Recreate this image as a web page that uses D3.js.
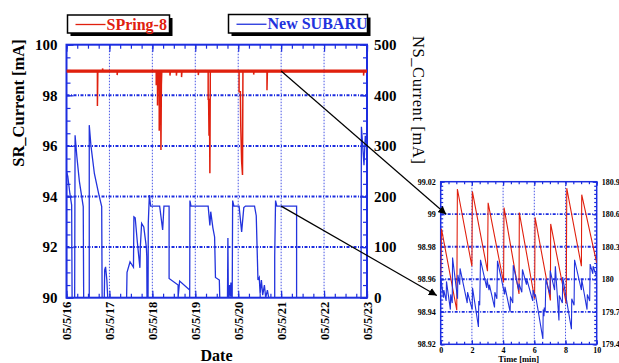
<!DOCTYPE html>
<html>
<head>
<meta charset="utf-8">
<script src="https://cdn.jsdelivr.net/npm/d3@7"></script>
<style>
  body { margin: 0; background: #fff; }
  svg { display: block; }
  text { font-family: "Liberation Serif", "Times New Roman", serif; }
</style>
</head>
<body>
<svg id="chart" width="619" height="363"></svg>
<script>
// ---- data ----
const dateLabels = ["05/5/16", "05/5/17", "05/5/18", "05/5/19", "05/5/20", "05/5/21", "05/5/22", "05/5/23"]
const srTicks = [90, 92, 94, 96, 98, 100]
const nsTicks = [0, 100, 200, 300, 400, 500]

// SPring-8 stored current [%], [day, value]
const spring8 = [
  [0, 98.96], [0.72, 98.96], [0.72, 97.58], [0.73, 98.96], [0.84, 98.96], [0.84, 99.06], [0.85, 98.96],
  [1.18, 98.96], [1.18, 98.8], [1.19, 98.96],
  [2.09, 98.96], [2.09, 98.4], [2.10, 98.96], [2.12, 98.96], [2.12, 97.6], [2.13, 98.96],
  [2.16, 98.96], [2.16, 96.6], [2.17, 98.4], [2.19, 98.96], [2.20, 95.84], [2.21, 98.4], [2.22, 98.96],
  [2.41, 98.96], [2.41, 98.78], [2.42, 98.96], [2.56, 98.96], [2.56, 98.78], [2.57, 98.96],
  [2.68, 98.96], [2.68, 98.72], [2.69, 98.96], [3.07, 98.96], [3.07, 98.8], [3.08, 98.96],
  [3.30, 98.96], [3.30, 97.84], [3.31, 97.84], [3.32, 96.4], [3.33, 97.84], [3.34, 94.92], [3.35, 98.96],
  [4.02, 98.96], [4.02, 98.14], [4.05, 98.14], [4.06, 96.76], [4.08, 95.38], [4.10, 94.85], [4.11, 98.96],
  [4.36, 98.96], [4.36, 98.82], [4.37, 98.96], [4.67, 98.96], [4.67, 98.2], [4.68, 98.96],
  [6.92, 98.96], [6.92, 98.78], [6.93, 98.96], [7, 98.96]
]
const spring8Band = [98.89, 99.02]

// New SUBARU current [mA], [day, value]
const subaru = [
  [0, 0], [0, 250], [0.03, 240], [0.08, 205], [0.12, 183], [0.13, 0],
  [0.19, 0], [0.20, 321], [0.24, 280], [0.30, 230], [0.39, 180], [0.40, 0],
  [0.53, 0], [0.53, 341], [0.57, 300], [0.65, 245], [0.75, 205], [0.82, 180], [0.83, 0],
  [0.88, 0], [0.89, 55], [0.91, 61], [0.94, 35], [0.96, 0],
  [1.40, 0], [1.41, 50], [1.48, 71], [1.56, 60], [1.57, 160], [1.60, 158], [1.65, 110], [1.71, 59],
  [1.72, 100], [1.75, 147], [1.80, 140], [1.86, 100], [1.87, 81], [1.875, 0], [1.90, 0],
  [1.905, 147], [1.93, 203], [1.96, 181], [2.17, 181], [2.21, 154], [2.24, 134], [2.27, 181],
  [2.39, 181], [2.39, 38], [2.60, 25], [2.60, 0], [2.635, 33], [2.87, 15], [2.87, 0],
  [2.875, 192], [2.90, 181], [3.30, 181], [3.34, 143], [3.36, 170], [3.41, 138], [3.45, 120],
  [3.47, 40], [3.56, 35], [3.57, 0],
  [3.75, 0], [3.76, 118], [3.77, 0], [3.80, 25], [3.81, 0], [3.83, 30], [3.84, 5], [3.86, 0],
  [3.87, 192], [3.90, 181], [4.02, 181], [4.08, 130], [4.13, 178], [4.17, 181], [4.38, 181],
  [4.42, 162], [4.46, 35], [4.49, 40], [4.51, 8], [4.54, 35], [4.57, 5], [4.61, 25], [4.64, 0],
  [4.68, 15], [4.71, 0],
  [4.85, 0], [4.85, 81], [4.87, 192], [4.90, 181], [5.36, 181], [5.36, 0],
  [6.86, 0], [6.87, 338], [6.90, 300], [6.93, 262], [6.96, 320], [7.0, 300]
]

// inset: 10 minutes of top-up operation, [min, value]
const insetTimeTicks = [0, 2, 4, 6, 8, 10]
const insetSRTicks = [98.92, 98.94, 98.96, 98.98, 99, 99.02]
const insetNSTicks = [179.4, 179.7, 180, 180.3, 180.6, 180.9]
const insetSpring8 = [
  [0, 98.962], [0.05, 98.991], [1.03, 98.941], [1.07, 99.0155], [2.0, 98.968], [2.03, 99.014],
  [3.0, 98.965], [3.04, 99.007], [4.03, 98.958], [4.06, 99.004], [5.02, 98.951], [5.04, 99.001],
  [6.02, 98.948], [6.05, 98.998], [7.03, 98.947], [7.05, 98.994], [8.05, 98.945], [8.08, 99.016],
  [9.02, 98.968], [9.04, 99.012], [10, 98.97]
]
const insetSubaru = [
  [0.00, 179.90], [0.02, 180.00], [0.18, 179.83], [0.20, 179.90], [0.35, 179.80],
  [0.37, 179.98], [0.62, 179.72], [0.64, 179.86], [0.74, 179.78],
  [0.76, 180.20], [1.08, 179.82], [1.10, 180.04], [1.22, 179.95],
  [1.24, 180.10], [1.70, 179.78], [1.72, 179.88], [2.02, 179.72],
  [2.04, 179.92], [2.42, 179.56], [2.44, 179.80], [2.50, 179.76],
  [2.55, 180.18], [2.95, 179.92], [2.97, 180.00], [3.10, 179.90],
  [3.12, 179.95], [3.45, 179.74], [3.47, 179.88], [3.60, 179.82],
  [3.64, 180.17], [4.10, 179.86], [4.12, 179.93], [4.45, 179.70],
  [4.47, 179.84], [4.62, 179.78], [4.65, 180.13], [5.00, 179.90],
  [5.02, 179.96], [5.20, 179.88], [5.24, 180.09], [5.50, 179.95],
  [5.52, 180.00], [5.90, 179.80], [5.92, 179.90], [6.05, 179.84],
  [6.07, 179.86], [6.55, 179.45], [6.57, 179.72], [6.62, 179.66],
  [6.64, 179.74], [6.70, 179.70], [6.74, 180.00], [7.00, 179.86],
  [7.02, 180.08], [7.30, 179.90], [7.35, 180.12], [7.58, 179.62],
  [7.60, 179.85], [7.80, 179.78], [7.82, 180.02], [8.38, 179.54],
  [8.40, 179.82], [8.55, 179.76], [8.58, 180.18], [9.02, 179.90],
  [9.04, 180.00], [9.38, 179.72], [9.40, 179.86], [9.55, 179.80],
  [9.58, 180.14], [9.75, 180.05], [9.77, 180.12], [10.0, 180.02]
]

// ---- layout ----
const RED = "#e0200e"
const BLUE = "#2233dd"
const AXIS_BLUE = "#1c2de0"
const main = { left: 66.5, right: 367, top: 44.7, bottom: 297.7 }
const inset = { left: 440.7, right: 596.7, top: 181.7, bottom: 344.3 }

const svg = d3.select("#chart")

const defs = svg.append("defs")
defs.append("clipPath").attr("id", "clipMain")
    .append("rect")
    .attr("x", main.left).attr("y", main.top)
    .attr("width", main.right - main.left).attr("height", main.bottom - main.top)
defs.append("clipPath").attr("id", "clipInset")
    .append("rect")
    .attr("x", inset.left).attr("y", inset.top)
    .attr("width", inset.right - inset.left).attr("height", inset.bottom - inset.top)
defs.append("marker")
    .attr("id", "arrow")
    .attr("viewBox", "0 0 10 10")
    .attr("refX", 10).attr("refY", 5)
    .attr("markerWidth", 8).attr("markerHeight", 8)
    .attr("markerUnits", "userSpaceOnUse")
    .attr("orient", "auto")
    .append("path")
    .attr("d", "M0,0 L10,5 L0,10 z")
    .attr("fill", "#000")

// draws the frame, grid, ticks and labels of one panel
function drawFrame(box, x, yL, yR, o) {
    const g = svg.append("g")

    // grid
    g.selectAll(".hgrid").data(o.hGrid).enter().append("line")
        .attr("x1", box.left).attr("x2", box.right)
        .attr("y1", d => yL(d)).attr("y2", d => yL(d))
        .attr("stroke", AXIS_BLUE).attr("stroke-width", o.hGridWidth)
        .style("stroke-dasharray", o.hGridDash)
    g.selectAll(".vgrid").data(o.vGrid).enter().append("line")
        .attr("x1", d => x(d)).attr("x2", d => x(d))
        .attr("y1", box.top).attr("y2", box.bottom)
        .attr("stroke", AXIS_BLUE).attr("stroke-width", 1).attr("opacity", 0.8)
        .style("stroke-dasharray", "1.5,1.5")

    // minor + major ticks pointing inward, on all four sides
    const tick = (axis, tr) => g.append("g").attr("transform", tr).call(axis)
        .call(s => s.select(".domain").remove())
        .call(s => s.selectAll("line").attr("stroke", AXIS_BLUE).attr("stroke-width", 1.2))
        .call(s => s.selectAll("text").remove())

    tick(d3.axisLeft(yL).tickValues(o.yMinor).tickSize(-o.minorLen), `translate(${box.left},0)`)
    tick(d3.axisLeft(yL).tickValues(o.yMajor).tickSize(-o.majorLen), `translate(${box.left},0)`)
    tick(d3.axisRight(yL).tickValues(o.yMinor).tickSize(-o.minorLen), `translate(${box.right},0)`)
    tick(d3.axisRight(yL).tickValues(o.yMajor).tickSize(-o.majorLen), `translate(${box.right},0)`)
    tick(d3.axisBottom(x).tickValues(o.xMinor).tickSize(-o.minorLen), `translate(0,${box.bottom})`)
    tick(d3.axisBottom(x).tickValues(o.xMajor).tickSize(-o.majorLen), `translate(0,${box.bottom})`)
    tick(d3.axisTop(x).tickValues(o.xMinor).tickSize(-o.minorLen), `translate(0,${box.top})`)
    tick(d3.axisTop(x).tickValues(o.xMajor).tickSize(-o.majorLen), `translate(0,${box.top})`)

    g.append("rect")
        .attr("x", box.left).attr("y", box.top)
        .attr("width", box.right - box.left).attr("height", box.bottom - box.top)
        .attr("fill", "none").attr("stroke", AXIS_BLUE).attr("stroke-width", o.frameWidth)

    // tick labels
    const lab = (axis, tr) => g.append("g").attr("transform", tr).call(axis)
        .call(s => s.select(".domain").remove())
        .call(s => s.selectAll("line").remove())
        .call(s => s.selectAll("text")
            .attr("fill", "#000")
            .attr("font-family", "Liberation Serif, Times New Roman, serif")
            .attr("font-weight", "bold")
            .attr("font-size", o.labelSize))
    const left = lab(d3.axisLeft(yL).tickValues(o.yMajor).tickSize(0).tickPadding(o.padL).tickFormat(o.fmtL),
        `translate(${box.left},0)`)
    const right = lab(d3.axisRight(yR).tickValues(o.yRTicks).tickSize(0).tickPadding(o.padR).tickFormat(o.fmtR),
        `translate(${box.right},0)`)
    const bottom = lab(d3.axisBottom(x).tickValues(o.xMajor).tickSize(0).tickPadding(o.padB).tickFormat(o.fmtX),
        `translate(0,${box.bottom})`)
    return { g, left, right, bottom }
}

// ---- main chart ----
const x = d3.scaleLinear().domain([0, 7]).range([main.left, main.right])
const ySR = d3.scaleLinear().domain([90, 100]).range([main.bottom, main.top])
const yNS = d3.scaleLinear().domain([0, 500]).range([main.bottom, main.top])

const mainFrame = drawFrame(main, x, ySR, yNS, {
    hGrid: [92, 94, 96, 98], hGridWidth: 2, hGridDash: "3,1.5,1,1.5",
    vGrid: d3.range(1, 7),
    yMajor: srTicks, yMinor: d3.range(90, 100.01, 0.5),
    xMajor: d3.range(0, 8), xMinor: d3.range(0, 7.01, 0.25),
    yRTicks: nsTicks,
    minorLen: 4, majorLen: 7, frameWidth: 2,
    labelSize: 15, padL: 9, padR: 7, padB: 4,
    fmtL: d3.format("d"), fmtR: d3.format("d"), fmtX: i => dateLabels[i]
})
mainFrame.bottom.selectAll("text")
    .attr("font-size", 12.5)
    .attr("transform", "rotate(-90)")
    .attr("text-anchor", "end")
    .attr("x", -4).attr("y", 0).attr("dy", "0.35em")

// data
const plot = svg.append("g").attr("clip-path", "url(#clipMain)")
plot.append("rect")
    .attr("x", x(0)).attr("width", x(7) - x(0))
    .attr("y", ySR(spring8Band[1])).attr("height", ySR(spring8Band[0]) - ySR(spring8Band[1]))
    .attr("fill", RED)
plot.append("path")
    .datum(spring8)
    .attr("d", d3.line().x(d => x(d[0])).y(d => ySR(d[1])))
    .attr("fill", "none").attr("stroke", RED).attr("stroke-width", 1.5)
plot.append("path")
    .datum(subaru)
    .attr("d", d3.line().x(d => x(d[0])).y(d => yNS(d[1])))
    .attr("fill", "none").attr("stroke", BLUE).attr("stroke-width", 1.3)

// titles
svg.append("text")
    .attr("transform", "translate(24,103) rotate(-90)")
    .attr("text-anchor", "middle")
    .attr("font-weight", "bold").attr("font-size", 16.5)
    .text("SR_Current [mA]")
svg.append("text")
    .attr("transform", `translate(413,${(main.top + main.bottom) / 2 - 71}) rotate(90)`)
    .attr("text-anchor", "middle")
    .attr("font-size", 16.5).attr("letter-spacing", 0.6)
    .text("NS_Current [mA]")
svg.append("text")
    .attr("x", 216.5).attr("y", 361)
    .attr("text-anchor", "middle")
    .attr("font-weight", "bold").attr("font-size", 16)
    .text("Date")

// legend boxes
function legendBox(bx, by, bw, bh, color, label) {
    const g = svg.append("g")
    g.append("rect").attr("x", bx + 3).attr("y", by + 3).attr("width", bw).attr("height", bh).attr("fill", "#000")
    g.append("rect").attr("x", bx).attr("y", by).attr("width", bw).attr("height", bh)
        .attr("fill", "#fff").attr("stroke", "#000").attr("stroke-width", 1.5)
    g.append("line")
        .attr("x1", bx + 8).attr("x2", bx + 38)
        .attr("y1", by + bh / 2 + 0.5).attr("y2", by + bh / 2 + 0.5)
        .attr("stroke", color).attr("stroke-width", 1.3)
    g.append("text")
        .attr("x", bx + 39).attr("y", by + bh / 2 + 5.5)
        .attr("fill", color).attr("font-weight", "bold").attr("font-size", 16)
        .text(label)
}
legendBox(67.5, 15, 102, 18, RED, "SPring-8")
legendBox(228.5, 14.5, 139, 18.5, BLUE, "New SUBARU")

// ---- inset ----
const tx = d3.scaleLinear().domain([0, 10]).range([inset.left, inset.right])
const yIL = d3.scaleLinear().domain([98.92, 99.02]).range([inset.bottom, inset.top])
const yIR = d3.scaleLinear().domain([179.4, 180.9]).range([inset.bottom, inset.top])

drawFrame(inset, tx, yIL, yIR, {
    hGrid: [98.94, 98.96, 98.98, 99], hGridWidth: 1.8, hGridDash: "3,1.5,1,1.5",
    vGrid: [2, 4, 6, 8],
    yMajor: insetSRTicks, yMinor: d3.range(98.92, 99.0201, 0.0025),
    xMajor: insetTimeTicks, xMinor: d3.range(0, 10.01, 0.5),
    yRTicks: insetNSTicks,
    minorLen: 2.5, majorLen: 4, frameWidth: 1.5,
    labelSize: 8, padL: 5, padR: 5, padB: 3,
    fmtL: d => d3.format(".2~f")(d), fmtR: d => d3.format(".1~f")(d), fmtX: d3.format("d")
})

const ip = svg.append("g").attr("clip-path", "url(#clipInset)")
ip.append("path")
    .datum(insetSpring8)
    .attr("d", d3.line().x(d => tx(d[0])).y(d => yIL(d[1])))
    .attr("fill", "none").attr("stroke", RED).attr("stroke-width", 1.1)
ip.append("path")
    .datum(insetSubaru)
    .attr("d", d3.line().x(d => tx(d[0])).y(d => yIR(d[1])))
    .attr("fill", "none").attr("stroke", BLUE).attr("stroke-width", 1.1)

svg.append("text")
    .attr("x", (inset.left + inset.right) / 2).attr("y", 362)
    .attr("text-anchor", "middle")
    .attr("font-weight", "bold").attr("font-size", 8.5)
    .text("Time [min]")

// ---- zoom arrows: from 05/5/21 on the main chart to the inset ----
svg.append("line")
    .attr("x1", x(5)).attr("y1", ySR(98.96))
    .attr("x2", tx(0.35)).attr("y2", yIL(99))
    .attr("stroke", "#000").attr("stroke-width", 1.2)
    .attr("marker-end", "url(#arrow)")
svg.append("line")
    .attr("x1", x(5)).attr("y1", yNS(181))
    .attr("x2", tx(-0.25)).attr("y2", yIR(179.85))
    .attr("stroke", "#000").attr("stroke-width", 1.2)
    .attr("marker-end", "url(#arrow)")
</script>
</body>
</html>
